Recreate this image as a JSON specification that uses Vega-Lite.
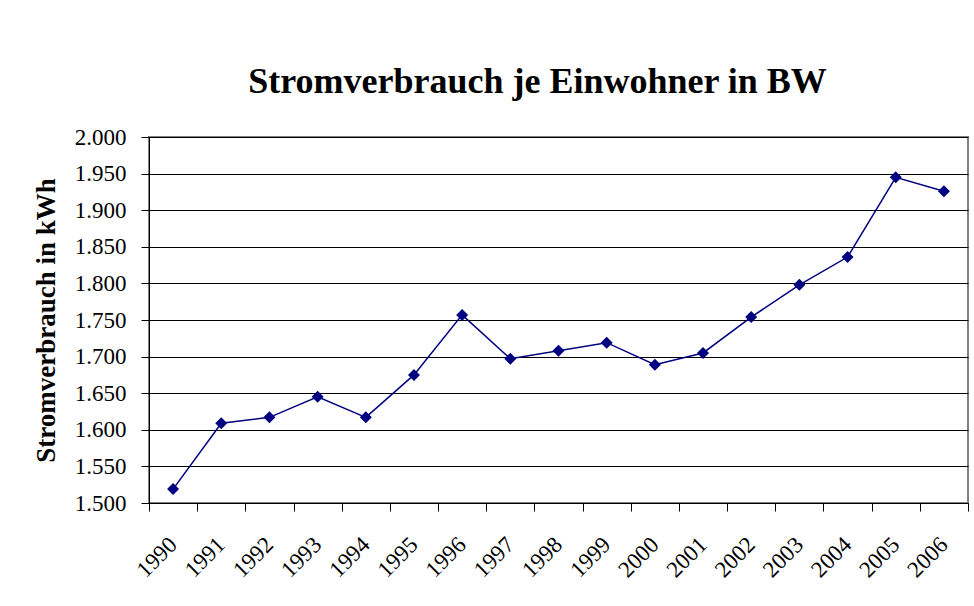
{
  "$schema": "https://vega.github.io/schema/vega-lite/v6.json",
  "width": 819,
  "height": 366,
  "autosize": {"type": "none"},
  "padding": {"left": 149, "top": 137, "right": 6, "bottom": 103},
  "background": "white",
  "title": {
    "text": "Stromverbrauch je Einwohner in BW",
    "font": "Liberation Serif",
    "fontSize": 36,
    "fontWeight": "bold",
    "color": "black",
    "anchor": "middle",
    "baseline": "alphabetic",
    "dx": -21,
    "offset": -3
  },
  "data": {
    "values": [
      {"Jahr": "1990", "kWh": 1519},
      {"Jahr": "1991", "kWh": 1609},
      {"Jahr": "1992", "kWh": 1617},
      {"Jahr": "1993", "kWh": 1645},
      {"Jahr": "1994", "kWh": 1617},
      {"Jahr": "1995", "kWh": 1675},
      {"Jahr": "1996", "kWh": 1757},
      {"Jahr": "1997", "kWh": 1697},
      {"Jahr": "1998", "kWh": 1708},
      {"Jahr": "1999", "kWh": 1719},
      {"Jahr": "2000", "kWh": 1689},
      {"Jahr": "2001", "kWh": 1705},
      {"Jahr": "2002", "kWh": 1754},
      {"Jahr": "2003", "kWh": 1798},
      {"Jahr": "2004", "kWh": 1836},
      {"Jahr": "2005", "kWh": 1945},
      {"Jahr": "2006", "kWh": 1926}
    ]
  },
  "encoding": {
    "x": {
      "field": "Jahr",
      "type": "ordinal",
      "scale": {"type": "band", "paddingInner": 0, "paddingOuter": 0},
      "axis": {
        "title": null,
        "labelAngle": -45,
        "labelFont": "Liberation Serif",
        "labelFontSize": 23,
        "labelColor": "black",
        "labelPadding": 22,
        "labelOffset": -8,
        "tickBand": "extent",
        "tickSize": 8,
        "tickColor": "black",
        "domainColor": "black",
        "grid": false
      }
    },
    "y": {
      "field": "kWh",
      "type": "quantitative",
      "scale": {"domain": [1500, 2000], "nice": false, "zero": false},
      "axis": {
        "title": "Stromverbrauch in kWh",
        "titleFont": "Liberation Serif",
        "titleFontSize": 27,
        "titleFontWeight": "bold",
        "titleColor": "black",
        "titlePadding": 14,
        "values": [1500, 1550, 1600, 1650, 1700, 1750, 1800, 1850, 1900, 1950, 2000],
        "labelExpr": "replace(format(datum.value, ','), ',', '.')",
        "labelFont": "Liberation Serif",
        "labelFontSize": 23,
        "labelColor": "black",
        "labelPadding": 15,
        "tickSize": 8,
        "tickColor": "black",
        "domainColor": "black",
        "grid": true,
        "gridColor": "black",
        "gridOpacity": 1,
        "gridWidth": 1
      }
    }
  },
  "layer": [
    {"mark": {"type": "line", "color": "#000080", "strokeWidth": 1.5}},
    {"mark": {"type": "point", "shape": "diamond", "filled": true, "color": "#000080", "size": 144, "opacity": 1}}
  ],
  "config": {
    "view": {"stroke": "#808080", "strokeWidth": 2}
  }
}
